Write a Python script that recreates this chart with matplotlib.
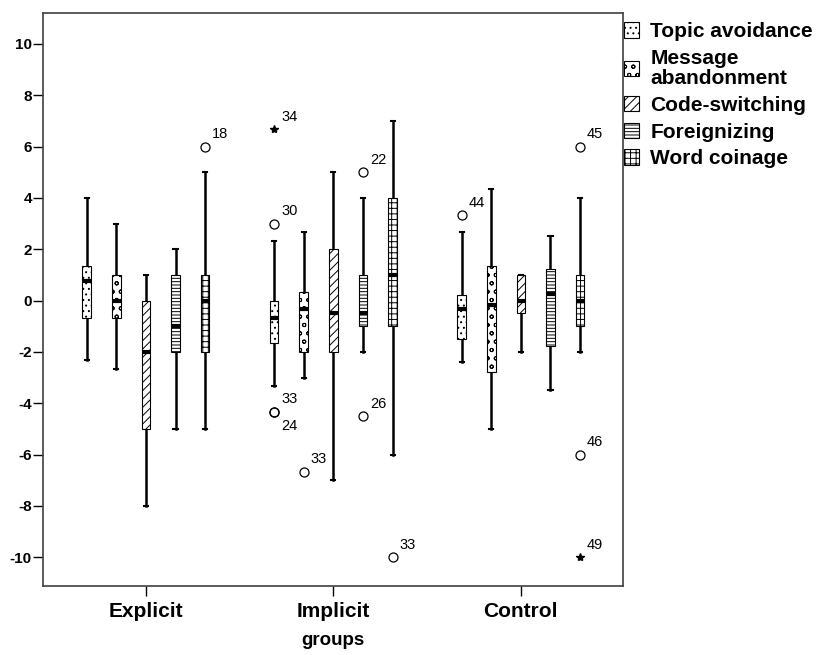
import matplotlib.pyplot as plt
from matplotlib.patches import Patch

plt.rcParams['font.family'] = ['Liberation Sans', 'DejaVu Sans']
plt.rcParams['hatch.linewidth'] = 0.7

groups = ['Explicit', 'Implicit', 'Control']
strategies = ['Topic avoidance', 'Message\nabandonment', 'Code-switching',
              'Foreignizing', 'Word coinage']
hatches = ['...', 'oo', '////', '-----', '+++']

# (whislo, q1, median, q3, whishi) for each strategy
explicit_stats = [(-2.33, -0.67, 0.75, 1.33, 4.0),
                  (-2.67, -0.67, 0.0, 1.0, 3.0),
                  (-8.0, -5.0, -2.0, 0.0, 1.0),
                  (-5.0, -2.0, -1.0, 1.0, 2.0),
                  (-5.0, -2.0, 0.0, 1.0, 5.0)]
implicit_stats = [(-3.33, -1.67, -0.67, 0.0, 2.33),
                  (-3.0, -2.0, -0.33, 0.33, 2.67),
                  (-7.0, -2.0, -0.5, 2.0, 5.0),
                  (-2.0, -1.0, -0.5, 1.0, 4.0),
                  (-6.0, -1.0, 1.0, 4.0, 7.0)]
control_stats = [(-2.4, -1.5, -0.33, 0.2, 2.67),
                 (-5.0, -2.8, -0.17, 1.33, 4.33),
                 (-2.0, -0.5, 0.0, 1.0, 1.0),
                 (-3.5, -1.75, 0.25, 1.25, 2.5),
                 (-2.0, -1.0, 0.0, 1.0, 4.0)]

# outliers: group, strategy, value, case label, label side
outlier_group = [0, 1, 1, 1, 1, 1, 1, 1, 2, 2, 2]
outlier_strat = [4, 0, 0, 0, 1, 3, 3, 4, 4, 4, 0]
outlier_value = [6.0, 3.0, -4.33, -4.33, -6.67, 5.0, -4.5, -10.0, 6.0, -6.0, 3.33]
outlier_label = ['18', '30', '33', '24', '33', '22', '26', '33', '45', '46', '44']
outlier_below = [False, False, False, True, False, False, False, False, False, False, False]
# extreme values (stars)
extreme_group = [1, 2]
extreme_strat = [0, 4]
extreme_value = [6.67, -10.0]
extreme_label = ['34', '49']

step = 0.158
box_w = 0.046


def xpos(g, s):
    return g + (s - 2) * step


fig = plt.figure(figsize=(8.19, 6.55), dpi=100)
ax = fig.add_axes([0.0525, 0.106, 0.708, 0.874])

all_stats = [explicit_stats, implicit_stats, control_stats]
for g, gstats in enumerate(all_stats):
    for s, (lo, q1, med, q3, hi) in enumerate(gstats):
        st = dict(whislo=lo, q1=q1, med=med, q3=q3, whishi=hi, fliers=[])
        res = ax.bxp([st], positions=[xpos(g, s)], widths=box_w,
                     patch_artist=True, showfliers=False,
                     capwidths=0.022,
                     boxprops=dict(facecolor='white', edgecolor='black', linewidth=0.8),
                     medianprops=dict(color='black', linewidth=3, solid_capstyle='butt'),
                     whiskerprops=dict(color='black', linewidth=1.8),
                     capprops=dict(color='black', linewidth=1.5))
        res['boxes'][0].set_hatch(hatches[s])
        for w in res['whiskers']:
            w.set_zorder(1)

for g, s, v, lab, below in zip(outlier_group, outlier_strat, outlier_value,
                               outlier_label, outlier_below):
    x = xpos(g, s)
    ax.plot(x, v, marker='o', mfc='none', mec='black', ms=6.5, mew=0.9, ls='none')
    if below:
        ax.annotate(lab, (x, v), xytext=(5, -5), textcoords='offset points',
                    ha='left', va='top', fontsize=10.5)
    else:
        ax.annotate(lab, (x, v), xytext=(5, 4), textcoords='offset points',
                    ha='left', va='bottom', fontsize=10.5)

for g, s, v, lab in zip(extreme_group, extreme_strat, extreme_value, extreme_label):
    x = xpos(g, s)
    ax.plot(x, v, marker='*', color='black', ms=6, ls='none')
    ax.annotate(lab, (x, v), xytext=(5, 4), textcoords='offset points',
                ha='left', va='bottom', fontsize=10.5)

ax.set_xlim(-0.549, 2.544)
ax.set_ylim(-11.1, 11.2)
ax.set_yticks(range(-10, 11, 2))
ax.set_yticklabels([str(t) for t in range(-10, 11, 2)], fontsize=11, fontweight='bold')
ax.set_xticks(range(len(groups)))
ax.set_xticklabels(groups, fontsize=15, fontweight='bold')
ax.tick_params(axis='y', length=7, width=1, pad=1)
ax.tick_params(axis='x', length=7, width=1, pad=5)
ax.set_xlabel('groups', fontsize=13.5, fontweight='bold', labelpad=8)
for sp in ax.spines.values():
    sp.set_color('#404040')
    sp.set_linewidth(1.2)

handles = [Patch(facecolor='white', edgecolor='black', hatch=h, linewidth=0.8)
           for h in hatches]
leg = ax.legend(handles, strategies, loc='upper left',
                bbox_to_anchor=(624 / 819, 1 - 22 / 655), bbox_transform=fig.transFigure,
                frameon=False, borderpad=0, borderaxespad=0,
                handlelength=0.72, handleheight=0.77, handletextpad=0.55,
                labelspacing=0.38, prop=dict(weight='bold', size=15))
for t in leg.get_texts():
    t.set_linespacing(1.05)

fig.savefig('out.png', dpi=100)
